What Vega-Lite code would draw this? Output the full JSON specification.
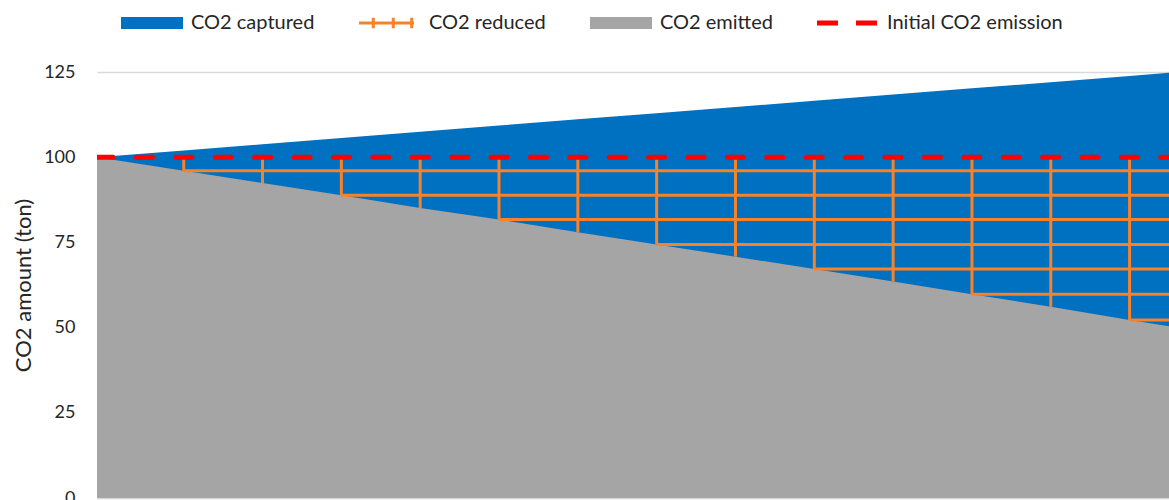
{
  "$schema": "https://vega.github.io/schema/vega-lite/v6.json",
  "width": 1072,
  "height": 426,
  "autosize": {"type": "none"},
  "padding": {"left": 97, "top": 72, "right": 0, "bottom": 2},
  "background": "white",
  "config": {"font": "Lato", "view": {"stroke": null}},
  "datasets": {
    "amounts": [
      {"year": 0, "emitted": 100, "total": 100},
      {"year": 2.2, "emitted": 96.0, "total": 102.0},
      {"year": 4.2, "emitted": 92.4, "total": 103.8},
      {"year": 6.2, "emitted": 88.8, "total": 105.6},
      {"year": 8.2, "emitted": 85.1, "total": 107.5},
      {"year": 10.2, "emitted": 81.7, "total": 109.3},
      {"year": 12.2, "emitted": 78.0, "total": 111.1},
      {"year": 14.2, "emitted": 74.4, "total": 112.9},
      {"year": 16.2, "emitted": 70.8, "total": 114.7},
      {"year": 18.2, "emitted": 67.2, "total": 116.6},
      {"year": 20.2, "emitted": 63.5, "total": 118.4},
      {"year": 22.2, "emitted": 59.8, "total": 120.2},
      {"year": 24.2, "emitted": 56.1, "total": 122.0},
      {"year": 26.2, "emitted": 52.2, "total": 123.8},
      {"year": 27.2, "emitted": 50.4, "total": 124.8}
    ],
    "reductions": [
      {"n": 1, "year": 2.2, "emitted": 96.0, "initial": 100},
      {"n": 2, "year": 4.2, "emitted": 92.4, "initial": 100},
      {"n": 3, "year": 6.2, "emitted": 88.8, "initial": 100},
      {"n": 4, "year": 8.2, "emitted": 85.1, "initial": 100},
      {"n": 5, "year": 10.2, "emitted": 81.7, "initial": 100},
      {"n": 6, "year": 12.2, "emitted": 78.0, "initial": 100},
      {"n": 7, "year": 14.2, "emitted": 74.4, "initial": 100},
      {"n": 8, "year": 16.2, "emitted": 70.8, "initial": 100},
      {"n": 9, "year": 18.2, "emitted": 67.2, "initial": 100},
      {"n": 10, "year": 20.2, "emitted": 63.5, "initial": 100},
      {"n": 11, "year": 22.2, "emitted": 59.8, "initial": 100},
      {"n": 12, "year": 24.2, "emitted": 56.1, "initial": 100},
      {"n": 13, "year": 26.2, "emitted": 52.2, "initial": 100}
    ],
    "baseline": [
      {"year": 0, "co2": 100},
      {"year": 27.2, "co2": 100}
    ]
  },
  "layer": [
    {
      "data": {"name": "amounts"},
      "mark": {"type": "area", "color": "#0070C0"},
      "encoding": {
        "x": {
          "field": "year",
          "type": "quantitative",
          "scale": {"domain": [0, 27.2], "nice": false, "zero": false},
          "axis": {"title": null, "labels": false, "ticks": false, "grid": false, "domainColor": "#D9D9D9", "domainWidth": 1.5}
        },
        "y": {
          "field": "total",
          "type": "quantitative",
          "scale": {"domain": [0, 125], "nice": false},
          "axis": {
            "title": "CO2 amount (ton)",
            "values": [0, 25, 50, 75, 100, 125],
            "grid": true,
            "gridColor": "#D9D9D9",
            "gridWidth": 1.5,
            "domain": false,
            "ticks": false,
            "labelFontSize": 18,
            "labelPadding": 22,
            "labelColor": "#262626",
            "titleFontSize": 22,
            "titleFontWeight": "normal",
            "titleColor": "#262626",
            "titlePadding": 8
          }
        },
        "color": {
          "datum": "CO2 captured",
          "type": "nominal",
          "scale": {
            "domain": ["CO2 captured", "CO2 reduced", "CO2 emitted", "Initial CO2 emission"],
            "range": ["#0070C0", "#F7822A", "#A5A5A5", "#FF0000"]
          },
          "legend": {
            "title": null,
            "orient": "none",
            "direction": "horizontal",
            "legendX": 24,
            "legendY": -80,
            "padding": 0,
            "symbolSize": 3844,
            "symbolStrokeWidth": 0,
            "labelFontSize": 20,
            "labelColor": "#262626",
            "labelOffset": 8,
            "labelLimit": 0,
            "columnPadding": 44,
            "encode": {
              "symbols": {
                "update": {
                  "shape": {"signal": "datum.value === 'CO2 reduced' ? 'M-1,-0.048L0.774,-0.048L0.774,0.048L-1,0.048Z M-0.588,-0.17L-0.492,-0.17L-0.492,0.17L-0.588,0.17Z M0.058,-0.17L0.154,-0.17L0.154,0.17L0.058,0.17Z M0.652,-0.17L0.748,-0.17L0.748,0.17L0.652,0.17Z' : datum.value === 'Initial CO2 emission' ? 'M-1,-0.08L-0.323,-0.08L-0.323,0.08L-1,0.08Z M0.258,-0.08L0.935,-0.08L0.935,0.08L0.258,0.08Z' : 'M-1,-0.19L1,-0.19L1,0.19L-1,0.19Z'"},
                  "fill": {"scale": "color", "field": "value"},
                  "stroke": {"value": "transparent"},
                  "opacity": {"value": 1}
                }
              }
            }
          }
        }
      }
    },
    {
      "data": {"name": "amounts"},
      "mark": {"type": "area", "color": "#A5A5A5"},
      "encoding": {
        "x": {"field": "year", "type": "quantitative"},
        "y": {"field": "emitted", "type": "quantitative"},
        "color": {"datum": "CO2 emitted", "type": "nominal"}
      }
    },
    {
      "data": {"name": "reductions"},
      "mark": {"type": "rule", "strokeWidth": 3},
      "encoding": {
        "x": {"field": "year", "type": "quantitative"},
        "y": {"field": "emitted", "type": "quantitative"},
        "y2": {"field": "initial"},
        "color": {"datum": "CO2 reduced", "type": "nominal"}
      }
    },
    {
      "data": {"name": "reductions"},
      "transform": [{"filter": "datum.n % 2 === 1"}],
      "mark": {"type": "rule", "strokeWidth": 3},
      "encoding": {
        "x": {"field": "year", "type": "quantitative"},
        "x2": {"value": "width"},
        "y": {"field": "emitted", "type": "quantitative"},
        "color": {"datum": "CO2 reduced", "type": "nominal"}
      }
    },
    {
      "data": {"name": "baseline"},
      "mark": {"type": "line", "strokeWidth": 5, "strokeDash": [16, 23.4], "strokeCap": "round", "clip": true},
      "encoding": {
        "x": {"field": "year", "type": "quantitative"},
        "y": {"field": "co2", "type": "quantitative"},
        "color": {"datum": "Initial CO2 emission", "type": "nominal"}
      }
    }
  ]
}
